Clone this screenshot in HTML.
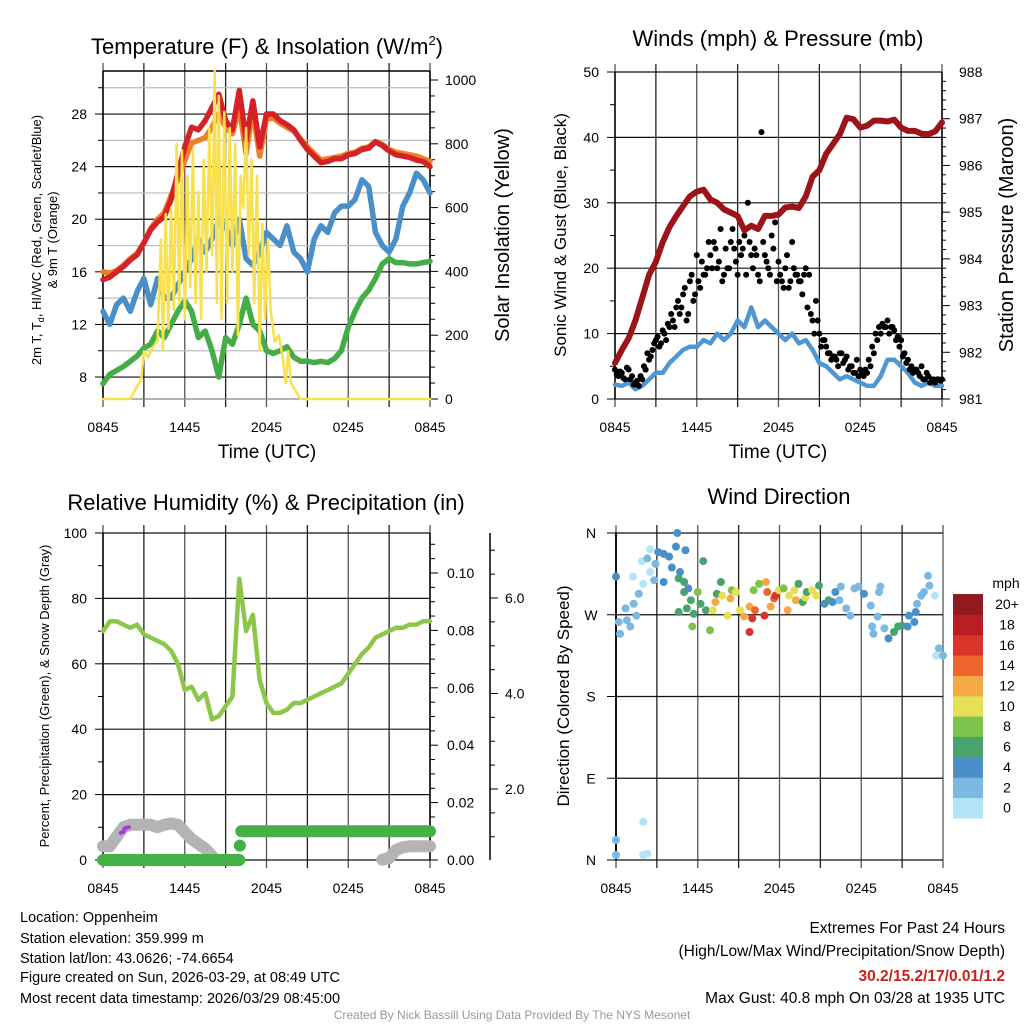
<!DOCTYPE html>
<html><head><meta charset="utf-8"><style>
html,body{margin:0;padding:0;background:#fff}
svg{display:block;font-family:"Liberation Sans",Arial,sans-serif}
</style></head><body>
<svg id="c" width="1024" height="1024" viewBox="0 0 1024 1024" xmlns="http://www.w3.org/2000/svg">
<rect width="1024" height="1024" fill="#fff"/>
<text x="267" y="54" font-size="22" text-anchor="middle">Temperature (F) &amp; Insolation (W/m<tspan font-size="13" dy="-9">2</tspan><tspan dy="9">)</tspan></text>
<text x="778" y="46" font-size="22" text-anchor="middle">Winds (mph) &amp; Pressure (mb)</text>
<text x="266" y="510" font-size="22" text-anchor="middle">Relative Humidity (%) &amp; Precipitation (in)</text>
<text x="779" y="504" font-size="22" text-anchor="middle">Wind Direction</text>

<text transform="translate(41,240) rotate(-90)" font-size="13" text-anchor="middle">2m T, T<tspan font-size="9" dy="3">d</tspan><tspan dy="-3">, HI/WC (Red, Green, Scarlet/Blue)</tspan></text>
<text transform="translate(57,240) rotate(-90)" font-size="13" text-anchor="middle">&amp; 9m T (Orange)</text>
<text transform="translate(509,235) rotate(-90)" font-size="20" text-anchor="middle">Solar Insolation (Yellow)</text>
<text transform="translate(566,235) rotate(-90)" font-size="17" text-anchor="middle">Sonic Wind &amp; Gust (Blue, Black)</text>
<text transform="translate(1013,235) rotate(-90)" font-size="20" text-anchor="middle">Station Pressure (Maroon)</text>
<text transform="translate(49,696) rotate(-90)" font-size="13" text-anchor="middle">Percent, Precipitation (Green), &amp; Snow Depth (Gray)</text>
<text transform="translate(569,696) rotate(-90)" font-size="17" text-anchor="middle">Direction (Colored By Speed)</text>
<text x="267" y="458" font-size="19" text-anchor="middle">Time (UTC)</text>
<text x="778" y="458" font-size="19" text-anchor="middle">Time (UTC)</text>

<g font-size="14.5">
<text x="20" y="922">Location: Oppenheim</text>
<text x="20" y="943">Station elevation: 359.999 m</text>
<text x="20" y="963">Station lat/lon: 43.0626; -74.6654</text>
<text x="20" y="982">Figure created on Sun, 2026-03-29, at 08:49 UTC</text>
<text x="20" y="1003">Most recent data timestamp: 2026/03/29 08:45:00</text>
</g>
<g font-size="15.5" text-anchor="end">
<text x="1005" y="933">Extremes For Past 24 Hours</text>
<text x="1005" y="956">(High/Low/Max Wind/Precipitation/Snow Depth)</text>
<text x="1005" y="981" fill="#cc1f1f" font-weight="bold">30.2/15.2/17/0.01/1.2</text>
<text x="1005" y="1003">Max Gust: 40.8 mph On 03/28 at 1935 UTC</text>
</g>
<text x="512" y="1019" font-size="12" fill="#999" text-anchor="middle">Created By Nick Bassill Using Data Provided By The NYS Mesonet</text>
</svg>
<script>
// ---- data ----
const timeLabels=["0845","1445","2045","0245","0845"];
const halfHours=[0,0.5,1,1.5,2,2.5,3,3.5,4,4.5,5,5.5,6,6.5,7,7.5,8,8.5,9,9.5,10,10.5,11,11.5,12,12.5,13,13.5,14,14.5,15,15.5,16,16.5,17,17.5,18,18.5,19,19.5,20,20.5,21,21.5,22,22.5,23,23.5,24];
const tempRed=[15.4,15.6,16,16.4,16.9,17.3,18.2,19.2,19.8,20.2,21.5,23.5,25.5,27,26.8,27.5,28.5,29.5,27.5,26.8,29.8,26,29,25.5,28,28,27.5,27.2,26.8,26,25.3,24.8,24.3,24.4,24.6,24.6,24.9,25,25.3,25.4,25.9,25.6,25.2,24.9,24.8,24.7,24.5,24.4,24];
const temp9m=[16,15.9,16.1,16.5,17,17.4,18.2,19.3,20,20.5,21.8,23,24.5,25.8,26,26.2,27,28,27,26.5,28.5,25,28.3,24.8,27.6,27.7,27.3,27,26.7,26.1,25.5,25,24.5,24.6,24.7,24.8,25,25.1,25.4,25.5,25.9,25.7,25.3,25.1,25,24.9,24.8,24.6,24.4];
const windChill=[13,12,13.5,14,13,14.5,15.5,13.5,15.5,14,14,15,16,17,18.5,17.5,18.5,20,19.5,18,20,17,16.5,17.5,19,18.5,18,19.5,17.5,17,16,18.5,19.5,19,20.5,21,21,21.5,23,22.5,19,18,17.5,18.5,21,22,23.5,23,22];
const dewPoint=[7.5,8.2,8.5,8.8,9.2,9.6,10.2,10.5,11.5,11,12,13,13.8,13,11,11.5,10,8,11,10.5,12,14,12,11.5,10,9.8,10,10.3,9.5,9.2,9.2,9.1,9.2,9.1,9.4,10,11.8,13,14,14.6,15.5,16.6,17,16.7,16.7,16.6,16.6,16.7,16.8];
const solarTimes=[0,2,2.5,2.8,3,3.3,3.6,4,4.25,4.4,4.6,4.8,5,5.2,5.4,5.6,5.8,6,6.2,6.4,6.6,6.8,7,7.2,7.4,7.6,7.8,8,8.2,8.35,8.5,8.7,8.9,9.1,9.3,9.5,9.7,9.9,10.1,10.3,10.5,10.7,10.9,11.1,11.3,11.5,11.7,11.9,12.1,12.3,12.6,12.9,13.2,13.4,13.6,13.8,14.2,14.5,24];
const solar=[0,0,40,60,150,130,160,180,500,150,580,220,600,280,800,300,780,250,700,350,780,300,650,250,750,400,850,450,1030,300,950,250,900,300,850,400,800,200,700,600,850,450,750,300,700,150,550,250,500,280,180,200,130,50,150,50,20,0,0];
const pressure=[981.77,982.05,982.3,982.68,983.17,983.66,983.94,984.36,984.68,984.92,985.13,985.34,985.44,985.48,985.27,985.2,985.06,984.99,984.92,984.61,984.71,984.64,984.92,984.92,984.95,985.1,985.12,985.09,985.34,985.76,985.9,986.25,986.46,986.67,987.02,986.99,986.81,986.85,986.96,986.96,986.94,986.98,986.81,986.74,986.74,986.68,986.67,986.73,986.92];
const sonicWind=[2.2,2,2.5,1.5,2,3,4,4,5.5,6.5,7.5,8,8,9,8.5,10,9,10,12,11,14,11,12,11,10,9,10,8.5,9,7.5,5.5,5,4,3,3.5,3,2.5,2,2,3.5,6,6,5,4,2.5,2,2.5,2,2];
const gust=[4.5,3.5,4,3,4.5,3.5,2.5,2,3, 4.5,6,7.5,9,8,10.5,9,11, 12,14,13,16,12,18,15,22, 17,19,20,22,24,20,26,19, 20,24,23,19,22,25,30,22, 23,19,40.8,22,20,25,27,21, 18,20,17,24,19,18,16,20, 19,12,15,10,9,8,7,6.5, 6,7,5.5,6.5,5,4,6,4.5, 3.5,4,5,7,9,10,11,12, 11,10.5,9.5,9,7,6,5,4.5, 4,5,3,3.5,3,2.5,3,3];
const gustB=[3.8,4.2,3.2,4.8,3,2.2,2.8,3.5, 5,7,6.5,8.5,9.5,8.5,10,11.5, 13,11,15,14,17,13,19,16, 18,21,19,24,20,23,21,18, 23,20,26,21,24,23,19,24, 20,22,18,24,21,19,23,18, 19,17,22,18,20,19,18,19, 14,13,10,12,8,9,7,6, 6.5,5,7,6,4.5,5,4,3.5, 4,4.5,6,8,10,11,11.5,11, 10,11,9,8,6.5,5.5,4.5,4, 4.5,3.5,3,4,2.5,3,3,2.8];
const humidity=[70,73,73,72,71,72,69,68,67,66,64,60,52,53,49,51,43,44,47,50,86,70,75,55,48,45,45,46,48,48,49,50,51,52,53,54,57,60,63,65,68,69,70,71,71,72,72,73,73];
const snowDepth=[0.8,0.8,1.0,1.2,1.25,1.25,1.25,1.25,1.2,1.25,1.28,1.25,1.1,0.95,0.85,0.75,0.6,null,null,null,null,null,null,null,null,null,null,null,null,null,null,null,null,null,null,null,null,null,null,null,null,0.52,0.55,0.72,0.78,0.8,0.8,0.8,0.8];
const precipTimes=[0,10,10.02,10.05,10.05,10.08,10.15,24];
const precip=[0,0,null,0.005,0.005,null,0.01,0.01];
const precipRateTimes=[1.3,1.5,1.6,1.9];
const precipRate=[1.08,1.1,1.18,1.2];
const dirTimes=[0,0.2,0.3,0.8,1.05,0.7,1.3,1.5,1.67,1.25,1.9,2.3,2.5,2.0,2.5,2.8,2.9,3.1,3.5,3.5,3.9,4.1,4.4,4.5,5.1,4.7,4.6,5,5.3,5,4.6,5.2,5.5,5.7,5.6,6,6.2,6.4,6.9,6.6,7.1,7.3,7.4,7.7,7.8,8.2,8.4,8.5,8.8,9.1,9.4,9.8,9.8,10,10.2,10.1,10.5,10.9,11,11.1,11.35,11.6,11.7,11.95,12.3,12.6,12.7,13.1,13.2,13.4,13.7,13.9,14,14.4,14.7,14.9,15.3,15.6,15.9,16.1,16.5,16.4,16.9,17.2,17.5,17.8,18.2,18.7,18.8,18.9,19.2,19.4,19.3,19.7,20,20.4,20.7,21,21.4,21.5,21.9,22,22.1,22.4,22.6,23,22.9,23.4,23.5,23.7,24,0,0,2,2,2.3];
const dirDeg=[312,262,249,264,257,277,282,269,293,312,329,332,342,304,317,308,326,339,337,306,334,322,345,360,341,317,310,306,299,295,273,277,286,271,257,295,282,329,253,275,275,284,293,306,291,269,288,297,295,275,268,279,251,266,275,297,304,269,306,295,279,288,291,297,299,275,291,297,286,304,284,289,295,297,291,302,282,286,284,295,301,286,277,269,299,301,293,280,257,249,268,301,295,255,244,251,257,258,257,269,262,273,282,291,295,302,313,291,225,233,225,22,5.5,42,5.5,7];
const dirSpeed=[4,2,2,2,2,2,2,2,2,0,0,2,0,0,0,2,2,4,4,4,4,4,4,4,4,4,6,6,4,6,6,6,6,6,8,8,6,6,8,6,10,12,6,6,10,10,12,8,10,10,12,12,16,16,14,8,8,16,12,14,12,14,16,10,8,12,10,10,12,6,6,10,6,10,10,6,4,6,4,4,2,2,2,2,2,2,4,2,2,2,2,2,2,2,4,6,6,6,4,4,4,4,2,2,2,2,2,0,0,2,2,2,2,0,0,0];
const speedBins=["0","2","4","6","8","10","12","14","16","18","20+"];
const speedColors=["#b5e3f8","#7bb9e2","#4a8fc7","#48a46c","#7dc24b","#e5e055","#f5a945","#ee652d","#dc3329","#bb1d25","#901a1d"];

// ---- helpers ----
const svg=document.getElementById('c');
const NS="http://www.w3.org/2000/svg";
function mk(tag,attrs,parent){const e=document.createElementNS(NS,tag);for(const k in attrs)e.setAttribute(k,attrs[k]);(parent||svg).appendChild(e);return e;}
function pathD(ts,vs,fx,fy){let d="",pen=false;for(let i=0;i<ts.length;i++){if(vs[i]===null||vs[i]===undefined){pen=false;continue;}d+=(pen?"L":"M")+fx(ts[i]).toFixed(1)+","+fy(vs[i]).toFixed(1);pen=true;}return d;}
const PW=327;
function xs(x0){return t=>x0+t/24*PW;}

function frame(x0,y0,y1,name){
  const g=mk('g',{});
  
  
  for(let i=0;i<=8;i++){
    const x=x0+i*PW/8;
    const l=mk('line',{x1:x,x2:x,y1:y0-8,y2:y1+8,stroke:(i%2? '#222':'#555'),'stroke-width':1.3},g);
    
    
  }
  timeLabels.forEach((s,i)=>{
    const t=mk('text',{x:x0+i*PW/4,y:y1+33,'font-size':14,'text-anchor':'middle'},g);t.textContent=s;
    
    
  });
  return g;
}
function hgrid(g,x0,y,col){const l=mk('line',{x1:x0,x2:x0+PW,y1:y,y2:y,stroke:col,'stroke-width':1.2},g);
  
  }
function tick(g,x,y,len){mk('line',{x1:x,x2:x+len,y1:y,y2:y,stroke:'#000','stroke-width':1},g);}
function label(g,x,y,s,anchor,name){const t=mk('text',{x:x,y:y+5,'font-size':14,'text-anchor':anchor},g);t.textContent=s;
  
  }
function line(d,col,w,name,op){const p=mk('path',{d:d,fill:'none',stroke:col,'stroke-width':w,'stroke-linejoin':'round','stroke-linecap':'round'});if(op)p.setAttribute('opacity',op);
  
  return p;}

// ===== Panel 1: temperature =====
{
const X0=103,Y0=71,Y1=399;const fx=xs(X0);
const fy=v=>399-(v-6.33)*13.15;const fr=w=>399-w*0.319;
const g=frame(X0,Y0,Y1,'temperature');
for(let v=8;v<=28;v+=4){hgrid(g,X0,fy(v),'#111');tick(g,X0,fy(v),-8);label(g,X0-16,fy(v),String(v),'end','temp-y-tick-label');}
for(let v=10;v<=30;v+=4){tick(g,X0,fy(v),-5);hgrid(g,X0,fy(v),'#bbb');}
mk('line',{x1:X0+PW,x2:X0+PW,y1:Y0,y2:Y1,stroke:'#000','stroke-width':1.5},g);
mk('line',{x1:X0,x2:X0,y1:Y0,y2:Y1,stroke:'#000','stroke-width':1.5},g);
mk('line',{x1:X0,x2:X0+PW,y1:Y0,y2:Y0,stroke:'#000','stroke-width':1.5},g);
mk('line',{x1:X0,x2:X0+PW,y1:Y1,y2:Y1,stroke:'#888','stroke-width':1.2},g);
for(let w=0;w<=1000;w+=50){tick(g,X0+PW,fr(w),w%200===0?8:5);}
for(let w=0;w<=1000;w+=200){label(g,X0+PW+15,fr(w),String(w),'start','solar-y-tick-label');}
line(pathD(halfHours,windChill,fx,fy),'#4b8fc9',5.5,'wind-chill-line');
line(pathD(halfHours,dewPoint,fx,fy),'#45ad45',5.5,'dew-point-line');
line(pathD(halfHours,temp9m,fx,fy),'#f07f2a',5.5,'temp-9m-line');
line(pathD(halfHours,tempRed,fx,fy),'#d42227',5.5,'temp-2m-line');
line(pathD(solarTimes,solar,fx,fr),'#f9e04e',2.5,'solar-insolation-line');
}

// ===== Panel 2: winds =====
{
const X0=615,Y0=72,Y1=399;const fx=xs(X0);
const fy=v=>399-v*6.54;const fp=p=>399-(p-981)*46.71;
const g=frame(X0,Y0,Y1,'winds');
for(let v=0;v<=50;v+=10){hgrid(g,X0,fy(v),'#111');tick(g,X0,fy(v),-8);label(g,X0-16,fy(v),String(v),'end','wind-y-tick-label');}
for(let v=5;v<50;v+=10){tick(g,X0,fy(v),-5);}
for(let p=981;p<=988;p+=0.2){tick(g,X0+PW,fp(p),Math.abs(p-Math.round(p))<0.01?8:4);}
for(let p=981;p<=988;p++){label(g,X0+PW+17,fp(p),String(p),'start','pressure-y-tick-label');}
mk('line',{x1:X0,x2:X0,y1:Y0,y2:Y1,stroke:'#000','stroke-width':1.5},g);
mk('line',{x1:X0+PW,x2:X0+PW,y1:Y0,y2:Y1,stroke:'#000','stroke-width':1.5},g);
line(pathD(halfHours,sonicWind,fx,fy),'#4f97d3',4.5,'sonic-wind-line');
gust.forEach((v,i)=>{const c=mk('circle',{cx:fx(i*0.25),cy:fy(v),r:3,fill:'#000'});
  
  });
gustB.forEach((v,i)=>{const c=mk('circle',{cx:fx(0.125+i*0.25),cy:fy(v),r:3,fill:'#000'});
  
  });
line(pathD(halfHours,pressure,fx,fp),'#9b1418',6,'pressure-line');
}

// ===== Panel 3: humidity =====
{
const X0=103,Y0=533,Y1=860;const fx=xs(X0);
const fy=v=>860-v*3.27;const fpp=p=>860-p*2870;const fs=s=>884.5-s*47.75;
const g=frame(X0,Y0,Y1,'humidity');
for(let v=0;v<=100;v+=20){hgrid(g,X0,fy(v),'#111');tick(g,X0,fy(v),-8);label(g,X0-16,fy(v),String(v),'end','rh-y-tick-label');}
for(let v=10;v<100;v+=20){tick(g,X0,fy(v),-5);}
mk('line',{x1:X0,x2:X0,y1:Y0,y2:Y1,stroke:'#000','stroke-width':1.5},g);
mk('line',{x1:X0+PW,x2:X0+PW,y1:Y0,y2:Y1,stroke:'#000','stroke-width':1.5},g);
for(let p=0;p<=0.114;p+=0.005){tick(g,X0+PW,fpp(p),Math.round(p*1000)%20===0?8:5);}
["0.00","0.02","0.04","0.06","0.08","0.10"].forEach(s=>label(g,X0+PW+17,fpp(parseFloat(s)),s,'start','precip-y-tick-label'));
mk('line',{x1:490,x2:490,y1:533,y2:860,stroke:'#000','stroke-width':1.5},g);
for(let s=0.5;s<=7;s+=0.5){if(fs(s)>=533&&fs(s)<=860)tick(g,490,fs(s),s%2===0?8:5);}
["2.0","4.0","6.0"].forEach(s=>label(g,505,fs(parseFloat(s)),s,'start','snow-y-tick-label'));
line(pathD(halfHours,snowDepth,fx,fs),'#b4b4b4',12,'snow-depth-line');
line(pathD(precipRateTimes,precipRate,fx,fs),'#a23be0',4,'precip-rate-line');
line(pathD(halfHours,humidity,fx,fy),'#8dc74a',4.5,'humidity-line');
line(pathD(precipTimes,precip,fx,fpp),'#45b045',12,'precip-line');
}

// ===== Panel 4: wind direction =====
{
const X0=616,Y0=533,Y1=860;const fx=xs(X0);
const fy=d=>860-d*327/360;
const g=frame(X0,Y0,Y1,'direction');
[["N",0],["E",90],["S",180],["W",270],["N",360]].forEach(([s,d])=>{hgrid(g,X0,fy(d),'#111');tick(g,X0,fy(d),-9);
  const t=mk('text',{x:591,y:fy(d)+5,'font-size':14,'text-anchor':'middle'},g);t.textContent=s;
  
  });
mk('line',{x1:X0,x2:X0,y1:Y0,y2:Y1,stroke:'#000','stroke-width':1.8},g);
dirTimes.forEach((t,i)=>{const bin=Math.min(10,Math.floor(dirSpeed[i]/2));
  const c=mk('circle',{cx:fx(t),cy:fy(dirDeg[i]),r:4,fill:speedColors[bin]});
  
  });
const lg=mk('g',{});


const mt=mk('text',{x:1006,y:588,'font-size':14,'text-anchor':'middle'},lg);mt.textContent="mph";
speedBins.forEach((s,i)=>{const y=818-(i+1)*20.36;
  const r=mk('rect',{x:953,y:y,width:30,height:20.8,fill:speedColors[i]},lg);
  
  
  const t=mk('text',{x:1007,y:y+15,'font-size':14,'text-anchor':'middle'},lg);t.textContent=s;
  
  });
}
</script>
</body></html>
